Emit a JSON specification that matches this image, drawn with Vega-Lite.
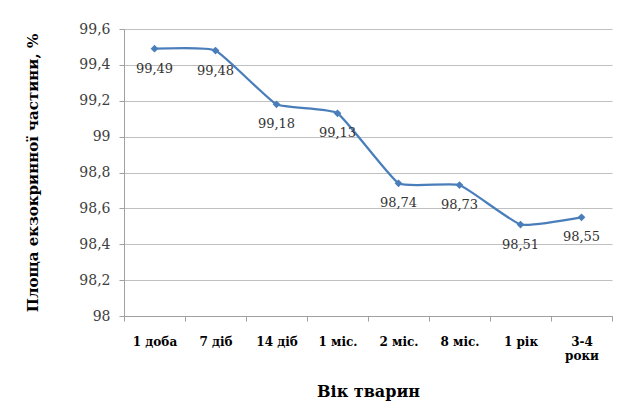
{
  "$schema": "https://vega.github.io/schema/vega-lite/v6.json",
  "width": 488,
  "height": 287,
  "padding": {"left": 124, "top": 29, "right": 10, "bottom": 100},
  "autosize": {"type": "none"},
  "background": "white",
  "config": {
    "locale": {"number": {"decimal": ",", "thousands": " ", "grouping": [3], "currency": ["", ""]}},
    "view": {"stroke": null},
    "font": "DejaVu Serif"
  },
  "data": {
    "values": [
      {"age": "1 доба", "value": 99.49},
      {"age": "7 діб", "value": 99.48},
      {"age": "14 діб", "value": 99.18},
      {"age": "1 міс.", "value": 99.13},
      {"age": "2 міс.", "value": 98.74},
      {"age": "8 міс.", "value": 98.73},
      {"age": "1 рік", "value": 98.51},
      {"age": "3-4 роки", "value": 98.55}
    ]
  },
  "encoding": {
    "x": {
      "field": "age",
      "type": "nominal",
      "sort": null,
      "scale": {"type": "band", "paddingInner": 0, "paddingOuter": 0},
      "axis": {
        "title": "Вік тварин",
        "titleFont": "DejaVu Serif",
        "titleFontSize": 16,
        "titleFontWeight": "bold",
        "titleColor": "black",
        "titlePadding": 22,
        "labelAngle": 0,
        "labelFont": "DejaVu Serif",
        "labelFontSize": 12,
        "labelFontWeight": "bold",
        "labelColor": "black",
        "labelPadding": 15,
        "labelExpr": "datum.value == '3-4 роки' ? ['3-4', 'роки'] : datum.value",
        "tickBand": "extent",
        "tickSize": 5,
        "tickColor": "#a0a0a0",
        "domainColor": "#a0a0a0",
        "grid": false
      }
    },
    "y": {
      "field": "value",
      "type": "quantitative",
      "scale": {"domain": [98, 99.6], "zero": false, "nice": false},
      "axis": {
        "title": "Площа екзокринної частини, %",
        "titleFont": "DejaVu Serif",
        "titleFontSize": 15,
        "titleFontWeight": "bold",
        "titleColor": "black",
        "titlePadding": 38,
        "values": [98, 98.2, 98.4, 98.6, 98.8, 99, 99.2, 99.4, 99.6],
        "format": ".1~f",
        "labelFont": "DejaVu Serif",
        "labelFontSize": 14,
        "labelColor": "#404040",
        "labelPadding": 9,
        "tickSize": 5,
        "tickColor": "#a0a0a0",
        "domainColor": "#a0a0a0",
        "gridColor": "#c0c0c0"
      }
    }
  },
  "layer": [
    {
      "mark": {
        "type": "line",
        "interpolate": "cardinal",
        "tension": 0.6,
        "color": "#4a7ebb",
        "strokeWidth": 2.25,
        "point": {"shape": "diamond", "size": 60, "filled": true, "color": "#4a7ebb"}
      }
    },
    {
      "mark": {"type": "text", "dy": 20, "font": "DejaVu Serif", "fontSize": 13, "color": "#333333"},
      "encoding": {"text": {"field": "value", "type": "quantitative", "format": ".2f"}}
    }
  ]
}
